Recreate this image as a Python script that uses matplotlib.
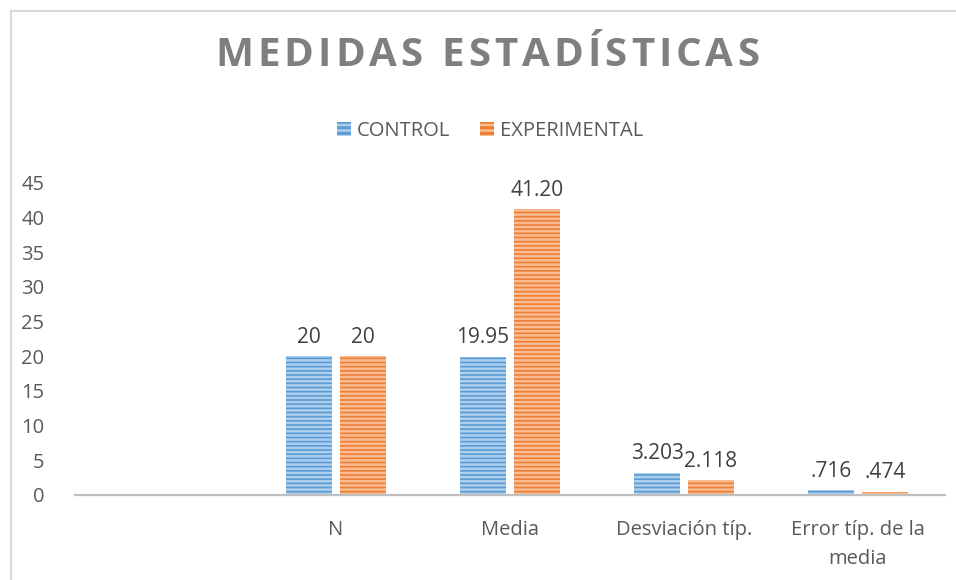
import matplotlib

matplotlib.use("Agg")
import matplotlib.pyplot as plt
import numpy as np
from matplotlib.lines import Line2D
from matplotlib.patches import Patch

categories = ["", "N", "Media", "Desviación típ.", "Error típ. de la\nmedia"]
control = [0, 20, 19.95, 3.203, 0.716]
experimental = [0, 20, 41.20, 2.118, 0.474]
control_labels = ["", "20", "19.95", "3.203", ".716"]
experimental_labels = ["", "20", "41.20", "2.118", ".474"]
series_names = ["CONTROL", "EXPERIMENTAL"]
y_ticks = [0, 5, 10, 15, 20, 25, 30, 35, 40, 45]

plt.rcParams["font.family"] = ["Open Sans", "DejaVu Sans"]
plt.rcParams["hatch.linewidth"] = 1.8

BLUE = "#5B9BD5"
BLUE_LIGHT = "#ADCEEC"
ORANGE = "#ED7D31"
ORANGE_LIGHT = "#F7BC94"
TEXT = "#595959"
FS = 14.5

fig = plt.figure(figsize=(9.56, 5.8), dpi=100)
ax = fig.add_axes([75 / 956, 1 - 495 / 580, 870 / 956, (495 - 183) / 580])

x = np.arange(len(categories))
width = 0.26
offset = 0.155
bars_c = ax.bar(x - offset, control, width, color=BLUE, edgecolor=BLUE_LIGHT,
                linewidth=0, hatch="----")
bars_e = ax.bar(x + offset, experimental, width, color=ORANGE, edgecolor=ORANGE_LIGHT,
                linewidth=0, hatch="----")

for bars, labels in ((bars_c, control_labels), (bars_e, experimental_labels)):
    for bar, lab in zip(bars, labels):
        if not lab:
            continue
        ax.annotate(lab, (bar.get_x() + bar.get_width() / 2, bar.get_height()),
                    xytext=(0, 6), textcoords="offset points", ha="center",
                    va="bottom", fontsize=15, color="#404040")

ax.set_xlim(-0.5, len(categories) - 0.5)
ax.set_ylim(0, 45)
ax.set_yticks(y_ticks)
ax.set_xticks(x)
ax.set_xticklabels(categories, fontsize=FS, color=TEXT, linespacing=1.6)
ax.tick_params(axis="y", length=0, labelsize=FS, labelcolor=TEXT, pad=22)
ax.tick_params(axis="x", length=0, pad=18)
for side in ("top", "right", "left"):
    ax.spines[side].set_visible(False)
ax.spines["bottom"].set_color("#BFBFBF")
ax.spines["bottom"].set_linewidth(1.6)

# title with letter spacing
title = "MEDIDAS ESTADÍSTICAS"
renderer = fig.canvas.get_renderer()
tracking = 4.0
widths = []
for ch in title:
    t = fig.text(0, 0, ch, fontsize=29, fontweight="bold")
    w = t.get_window_extent(renderer).width if ch != " " else 11
    widths.append(w)
    t.remove()
total = sum(widths) + tracking * (len(title) - 1)
xpos = 487 - total / 2
for ch, w in zip(title, widths):
    fig.text(xpos / 956, 1 - 56 / 580, ch, fontsize=29, fontweight="bold",
             color="#7F7F7F", va="center", ha="left")
    xpos += w + tracking

handles = [Patch(facecolor=BLUE, edgecolor=BLUE_LIGHT, hatch="---", linewidth=0),
           Patch(facecolor=ORANGE, edgecolor=ORANGE_LIGHT, hatch="---", linewidth=0)]
fig.legend(handles, series_names, loc="center", bbox_to_anchor=(490 / 956, 1 - 131 / 580),
           ncol=2, frameon=False, fontsize=FS, labelcolor=TEXT, handlelength=0.7,
           handleheight=0.7, handletextpad=0.3, columnspacing=1.5)

# chart border
fig.add_artist(Line2D([11 / 956, 11 / 956], [0, 1 - 11 / 580], color="#D9D9D9", lw=1.5))
fig.add_artist(Line2D([11 / 956, 1], [1 - 11 / 580, 1 - 11 / 580], color="#D9D9D9", lw=1.5))

fig.savefig("out.png", dpi=100)
